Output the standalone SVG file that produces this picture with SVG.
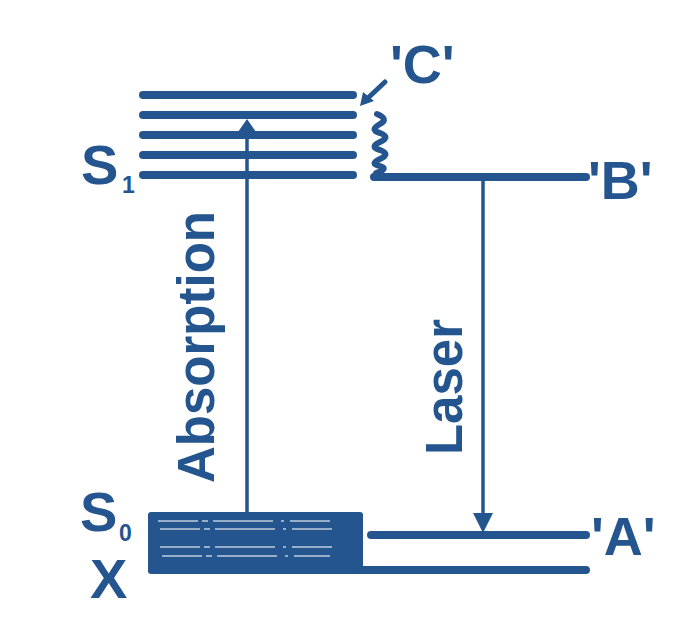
<svg xmlns="http://www.w3.org/2000/svg" width="694" height="626" viewBox="0 0 694 626">
<style>
.lvl{stroke:#24558f;stroke-width:8;stroke-linecap:round;fill:none}
.ln{stroke:#24558f;stroke-width:3.5;fill:none}
.hd{fill:#24558f}
.lab{font-family:"Liberation Sans",Arial,sans-serif;font-weight:bold;fill:#24558f}
.wl{stroke:#ffffff;stroke-width:1.6;stroke-dasharray:40 4 6 5 60 8 3 6;opacity:0.7}
</style>
<rect width="694" height="626" fill="#ffffff"/>
<g id="S1">
<line class="lvl" x1="143" y1="95" x2="353" y2="95"/>
<line class="lvl" x1="143" y1="115" x2="353" y2="115"/>
<line class="lvl" x1="143" y1="135" x2="353" y2="135"/>
<line class="lvl" x1="143" y1="155" x2="353" y2="155"/>
<line class="lvl" x1="143" y1="175" x2="353" y2="175"/>
<text class="lab" x="81" y="184" font-size="56">S</text>
<text class="lab" x="122" y="193" font-size="23">1</text>
</g>
<g id="S0">
<rect x="148" y="512" width="215" height="62" rx="3" fill="#24558f"/>
<line class="wl" x1="158" y1="521" x2="330" y2="521"/>
<line class="wl" x1="160" y1="529" x2="335" y2="529"/>
<line class="wl" x1="160" y1="547" x2="335" y2="547"/>
<line class="wl" x1="162" y1="556" x2="330" y2="556"/>
<text class="lab" x="80" y="531" font-size="56">S</text>
<text class="lab" x="119" y="541" font-size="23">0</text>
</g>
<g id="X">
<line class="lvl" x1="360" y1="570" x2="586" y2="570"/>
<text class="lab" x="90" y="598" font-size="56">X</text>
</g>
<g id="B">
<line class="lvl" x1="374" y1="177" x2="586" y2="177"/>
<text class="lab" x="588" y="199" font-size="54">'B'</text>
</g>
<g id="A">
<line class="lvl" x1="371" y1="535" x2="586" y2="535"/>
<text class="lab" x="591" y="555" font-size="54">'A'</text>
</g>
<g id="C">
<text class="lab" x="390" y="83" font-size="54">'C'</text>
</g>
<g id="connectors">
<line class="ln" x1="247" y1="512" x2="247" y2="128"/>
<polygon class="hd" points="247,119 256,132 238,132"/>
<line class="ln" x1="483" y1="177" x2="483" y2="516"/>
<polygon class="hd" points="483,533 473,513 493,513"/>
<line class="ln" x1="385" y1="82" x2="369" y2="97" style="stroke-width:5;stroke-linecap:round"/>
<polygon class="hd" points="360,106 363,92 374,101"/>
<path class="ln" style="stroke-width:6;stroke-linecap:round;stroke-linejoin:round" d="M377,114 Q389,119 380,124 Q369,130 380,133 Q391,137 380,142 Q369,147 380,150 Q391,154 380,159 Q369,164 380,166 Q389,169 376,173 L375,178"/>
<text class="lab" transform="translate(214,347) rotate(-90)" text-anchor="middle" font-size="51">Absorption</text>
<text class="lab" transform="translate(462,387) rotate(-90)" text-anchor="middle" font-size="51">Laser</text>
</g>
</svg>
